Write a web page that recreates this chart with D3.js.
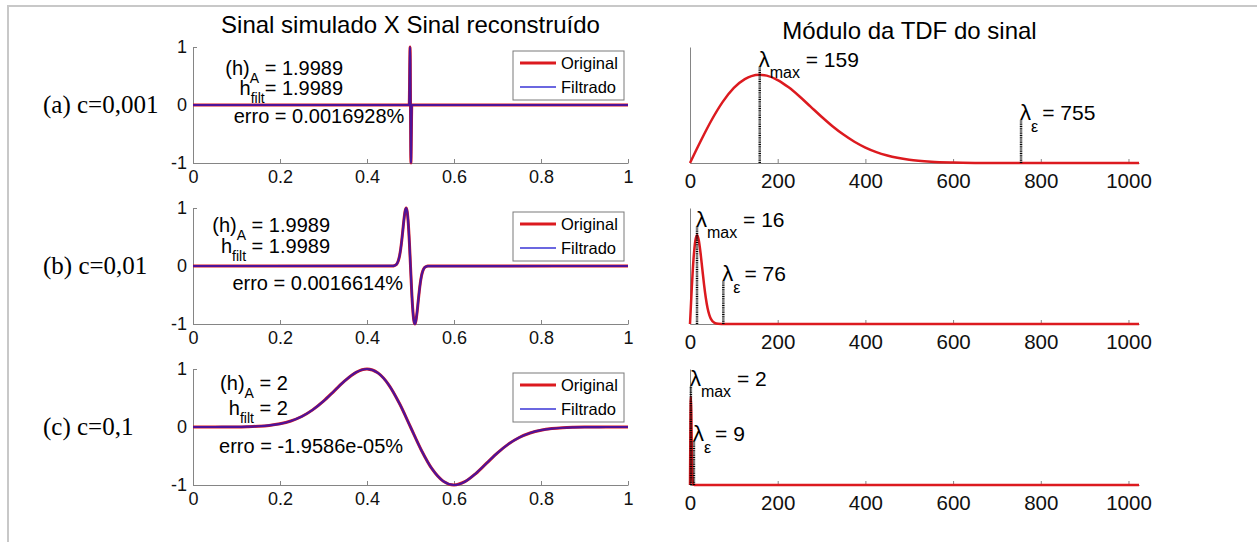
<!DOCTYPE html>
<html>
<head>
<meta charset="utf-8">
<script src="https://cdn.jsdelivr.net/npm/d3@7"></script>
<style>
  body { margin: 0; background: #fff; }
  svg { display: block; font-family: "Liberation Sans", Arial, sans-serif; }
  .axis path, .axis line { stroke: #858585; stroke-width: 1; }
  .axis text { fill: #111; }
</style>
</head>
<body>
<svg id="chart" width="1257" height="542"></svg>
<script>
// ---- data ----
const titles = ["Sinal simulado X Sinal reconstruído", "Módulo da TDF do sinal"];
const panelLabels = ["(a) c=0,001", "(b) c=0,01", "(c) c=0,1"];
const hA = ["1.9989", "1.9989", "2"];
const hFilt = ["1.9989", "1.9989", "2"];
const erro = ["0.0016928%", "0.0016614%", "-1.9586e-05%"];
const legendNames = ["Original", "Filtrado"];

const leftXTicks = [0, 0.2, 0.4, 0.6, 0.8, 1];
const leftXTickLabels = ["0", "0.2", "0.4", "0.6", "0.8", "1"];
const leftYTicks = [-1, 0, 1];
const leftYTickLabels = ["-1", "0", "1"];
const rightXTicks = [0, 200, 400, 600, 800, 1000];
const rightXTickLabels = ["0", "200", "400", "600", "800", "1000"];

// simulated signal (original == filtered), time in [0,1]
const sigT_a = [0, 0.497, 0.4985, 0.499, 0.4995, 0.5, 0.5005, 0.501, 0.5015, 0.503, 1];
const sigV_a = [0, 0, 0.80, 1, 0.73, 0, -0.73, -1, -0.80, 0, 0];

const sigT_b = [0, 0.46, 0.4625, 0.465, 0.4675, 0.47, 0.4725, 0.475, 0.4775, 0.48, 0.4825, 0.485, 0.4875,
  0.49, 0.4925, 0.495, 0.4975, 0.5, 0.5025, 0.505, 0.5075, 0.51, 0.5125, 0.515, 0.5175, 0.52, 0.5225,
  0.525, 0.5275, 0.53, 0.5325, 0.535, 0.5375, 0.54, 1];
const sigV_b = [0, 0.002, 0.006, 0.013, 0.027, 0.055, 0.104, 0.181, 0.295, 0.446, 0.624, 0.803, 0.943,
  1, 0.933, 0.728, 0.40, 0, -0.40, -0.728, -0.933, -1, -0.943, -0.803, -0.624, -0.446, -0.295,
  -0.181, -0.104, -0.055, -0.027, -0.013, -0.006, -0.002, 0];

const sigT_c = [0, 0.025, 0.05, 0.075, 0.1, 0.125, 0.15, 0.175, 0.2, 0.225, 0.25, 0.275, 0.3, 0.325,
  0.35, 0.375, 0.4, 0.425, 0.45, 0.475, 0.5, 0.525, 0.55, 0.575, 0.6, 0.625, 0.65, 0.675, 0.7, 0.725,
  0.75, 0.775, 0.8, 0.825, 0.85, 0.875, 0.9, 0.925, 0.95, 0.975, 1];
const sigV_c = [0, 0, 0, 0.001, 0.002, 0.006, 0.013, 0.027, 0.055, 0.104, 0.181, 0.295, 0.446, 0.624,
  0.803, 0.943, 1, 0.933, 0.728, 0.40, 0, -0.40, -0.728, -0.933, -1, -0.943, -0.803, -0.624, -0.446, -0.295,
  -0.181, -0.104, -0.055, -0.027, -0.013, -0.006, -0.002, -0.001, 0, 0, 0];

// |TDF| of the signal (relative units, axis top = 1)
const specK_a = [0, 25, 50, 75, 100, 125, 140, 159, 175, 200, 225, 250, 275, 300, 325, 350, 375, 400,
  425, 450, 500, 550, 600, 650, 700, 1024];
const specV_a = [0, 0.194, 0.375, 0.529, 0.647, 0.723, 0.749, 0.76, 0.753, 0.715, 0.652, 0.573, 0.486,
  0.399, 0.317, 0.245, 0.183, 0.133, 0.094, 0.065, 0.028, 0.011, 0.004, 0.001, 0, 0];
const specK_b = [0, 4, 8, 12, 16, 20, 24, 28, 32, 36, 40, 44, 48, 56, 64, 80, 1024];
const specV_b = [0, 0.306, 0.557, 0.714, 0.765, 0.722, 0.614, 0.477, 0.341, 0.226, 0.138, 0.079, 0.042,
  0.010, 0.002, 0, 0];
const specK_c = [0, 1, 2, 3, 4, 5, 6, 7, 8, 10, 1024];
const specV_c = [0, 0.55, 0.76, 0.61, 0.34, 0.14, 0.042, 0.01, 0.002, 0, 0];

const lambdaMax = [159, 16, 2];
const lambdaEps = [755, 76, 9];
const lambdaMaxTop = [0.83, 0.84, 0.85];
const lambdaEpsTop = [0.37, 0.37, 0.38];

const sigT = [sigT_a, sigT_b, sigT_c], sigV = [sigV_a, sigV_b, sigV_c];
const specK = [specK_a, specK_b, specK_c], specV = [specV_a, specV_b, specV_c];

// ---- layout ----
const leftX = [193, 628], rightX = [690, 1139];
const top0 = 47, gap = 161, ph = 116;
// annotation anchors in data coords of the left axes (right aligned)
const annot = [
  {hx: 0.345, hy: 0.517, fy: 0.172, ex: 0.486, ey: -0.31, sp: ""},
  {hx: 0.315, hy: 0.586, fy: 0.224, ex: 0.483, ey: -0.414, sp: " "},
  {hx: 0.218, hy: 0.638, fy: 0.207, ex: 0.483, ey: -0.448, sp: " "}
];
const RED = "#dc1a1f", BLUE = "#2a12b8";

const svg = d3.select("#chart");

svg.append("path").attr("d", "M8,542V6H1257")
  .attr("fill", "none").attr("stroke", "#c8c8c8").attr("stroke-width", 2);

svg.append("text").attr("x", (leftX[0] + leftX[1]) / 2).attr("y", 33)
  .attr("text-anchor", "middle").style("font-size", "24px").text(titles[0]);
svg.append("text").attr("x", (rightX[0] + rightX[1]) / 2 - 5).attr("y", 39)
  .attr("text-anchor", "middle").style("font-size", "24px").text(titles[1]);

function styleAxis(g, size) {
  g.attr("class", "axis").attr("font-family", null).attr("font-size", null);
  g.selectAll("text").style("font-size", size);
}

for (let i = 0; i < 3; i++) {
  const top = top0 + i * gap, bottom = top + ph;

  // ---- left: signal ----
  const x = d3.scaleLinear().domain([0, 1]).range(leftX);
  const y = d3.scaleLinear().domain([-1, 1]).range([bottom, top]);

  svg.append("g").attr("transform", `translate(0,${bottom})`)
    .call(d3.axisBottom(x).tickValues(leftXTicks).tickFormat((d, j) => leftXTickLabels[j])
      .tickSizeInner(-4).tickSizeOuter(0).tickPadding(7))
    .call(g => styleAxis(g, "18px"));
  svg.append("g").attr("transform", `translate(${leftX[0]},0)`)
    .call(d3.axisLeft(y).tickValues(leftYTicks).tickFormat((d, j) => leftYTickLabels[j])
      .tickSizeInner(-4).tickSizeOuter(0).tickPadding(6))
    .call(g => styleAxis(g, "18px"));

  svg.append("text").attr("x", 43).attr("y", y(0)).attr("dy", "0.33em")
    .style("font-family", "'Liberation Serif', 'Times New Roman', serif").style("font-size", "25px")
    .text(panelLabels[i]);

  const pts = d3.zip(sigT[i], sigV[i]);
  const line = d3.line().x(d => x(d[0])).y(d => y(d[1])).curve(d3.curveMonotoneX);
  svg.append("path").datum(pts).attr("d", line)
    .attr("fill", "none").attr("stroke", RED).attr("stroke-width", 3);
  svg.append("path").datum(pts).attr("d", line)
    .attr("fill", "none").attr("stroke", BLUE).attr("stroke-width", 2.2).attr("stroke-opacity", 0.8);

  // annotations
  const a = annot[i];
  const t1 = svg.append("text").attr("x", x(a.hx)).attr("y", y(a.hy))
    .attr("text-anchor", "end").style("font-size", "20px");
  t1.append("tspan").text("(h)");
  t1.append("tspan").attr("dy", 8).style("font-size", "14px").text("A");
  t1.append("tspan").attr("dy", -8).text(" = " + hA[i]);
  const t2 = svg.append("text").attr("x", x(a.hx)).attr("y", y(a.fy))
    .attr("text-anchor", "end").style("font-size", "20px");
  t2.append("tspan").text("h");
  t2.append("tspan").attr("dy", 8).style("font-size", "14px").text("filt");
  t2.append("tspan").attr("dy", -8).text(a.sp + "= " + hFilt[i]);
  svg.append("text").attr("x", x(a.ex)).attr("y", y(a.ey))
    .attr("text-anchor", "end").style("font-size", "20px").text("erro = " + erro[i]);

  // legend
  const lx1 = leftX[1] - 4, lx0 = lx1 - 111, ly = top + 4;
  const lg = svg.append("g");
  lg.append("rect").attr("x", lx0).attr("y", ly).attr("width", lx1 - lx0).attr("height", 49)
    .attr("fill", "#fff").attr("stroke", "#7a7a7a").attr("stroke-width", 1);
  [[RED, 3], ["#3a34d6", 1.5]].forEach((s, j) => {
    const yy = ly + 12 + j * 24;
    lg.append("line").attr("x1", lx0 + 7).attr("x2", lx0 + 43).attr("y1", yy).attr("y2", yy)
      .attr("stroke", s[0]).attr("stroke-width", s[1]);
    lg.append("text").attr("x", lx0 + 48).attr("y", yy + 5.5).style("font-size", "16.5px")
      .text(legendNames[j]);
  });

  // ---- right: spectrum ----
  const xr = d3.scaleLinear().domain([0, 1024]).range(rightX);
  const yr = d3.scaleLinear().domain([0, 1]).range([bottom, top]);

  svg.append("g").attr("transform", `translate(0,${bottom})`)
    .call(d3.axisBottom(xr).tickValues(rightXTicks).tickFormat((d, j) => rightXTickLabels[j])
      .tickSizeInner(-4).tickSizeOuter(0).tickPadding(10))
    .call(g => styleAxis(g, "20.5px"));
  svg.append("g").attr("transform", `translate(${rightX[0]},0)`)
    .call(d3.axisLeft(yr).tickValues([]).tickSizeOuter(0))
    .call(g => styleAxis(g, "20px"));

  const spec = d3.line().x(d => xr(d[0])).y(d => yr(d[1])).curve(d3.curveMonotoneX);
  svg.append("path").datum(d3.zip(specK[i], specV[i])).attr("d", spec)
    .attr("fill", "none").attr("stroke", RED).attr("stroke-width", 2.5);

  [[lambdaMax[i], lambdaMaxTop[i], "max", 11, " = " + lambdaMax[i], 0],
   [lambdaEps[i], lambdaEpsTop[i], "ε", 12, "= " + lambdaEps[i], 4]].forEach(m => {
    svg.append("line").attr("x1", xr(m[0])).attr("x2", xr(m[0]))
      .attr("y1", yr(0)).attr("y2", yr(m[1]))
      .attr("stroke", "#000").attr("stroke-width", 2.5).attr("stroke-dasharray", "1,0.8");
    const t = svg.append("text").attr("x", xr(m[0]) - 1).attr("y", yr(m[1]))
      .style("font-size", "21px");
    t.append("tspan").style("font-size", "22px").text("λ");
    t.append("tspan").attr("dy", m[3]).style("font-size", "16px").text(m[2]);
    t.append("tspan").attr("dy", -m[3]).attr("dx", m[5]).text(m[4]);
  });
}
</script>
</body>
</html>
